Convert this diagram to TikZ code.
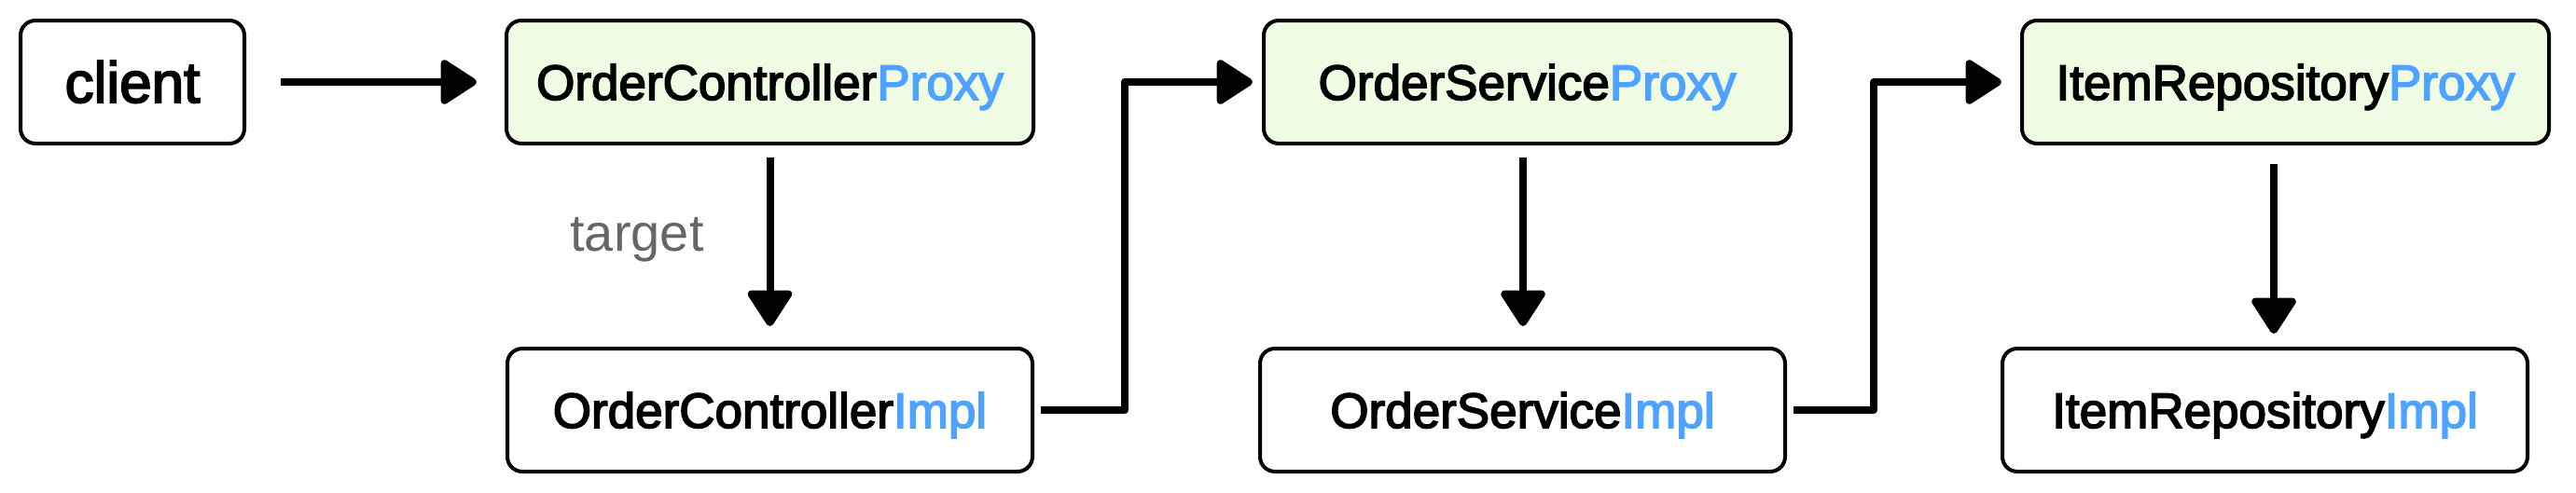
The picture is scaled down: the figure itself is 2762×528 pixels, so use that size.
\documentclass[tikz,border=0pt]{standalone}
\usepackage{fontspec}
\setmainfont{Liberation Sans}
\newfontfamily\boxfont{Liberation Sans}[FakeBold=3]
\usetikzlibrary{arrows.meta}
\definecolor{proxyfill}{HTML}{EFFBE2}
\definecolor{accent}{HTML}{4DA3FF}
\definecolor{labelgray}{HTML}{666666}
\tikzset{
  box/.style={draw=black, line width=4pt, rounded corners=16pt, fill=white,
    minimum height=132pt, inner sep=0pt, text height=38pt, text depth=0pt,
    font=\boxfont\fontsize{53}{60}\selectfont},
  proxybox/.style={box, fill=proxyfill, minimum width=565pt},
  implbox/.style={box, minimum width=563pt},
  arr/.style={draw=black, line width=8pt, line join=round,
    -{Triangle[length=42pt, width=52pt, round]}},
  lbl/.style={text=labelgray, font=\fontsize{56}{60}\selectfont, inner sep=0pt}
}
\begin{document}
\begin{tikzpicture}[x=1pt, y=-1pt]
\useasboundingbox (0,0) rectangle (2762,528);
\node[box, minimum width=240pt, text height=44pt, font=\boxfont\fontsize{62}{68}\selectfont] (client) at (142,88) {client};
\node[proxybox] (ocp) at (825.5,88) {OrderController\textcolor{accent}{Proxy}};
\node[implbox] (oci) at (825.5,440) {OrderController\textcolor{accent}{Impl}};
\node[proxybox] (osp) at (1637.5,88) {OrderService\textcolor{accent}{Proxy}};
\node[implbox] (osi) at (1632.5,440) {OrderService\textcolor{accent}{Impl}};
\node[proxybox] (irp) at (2450.5,88) {ItemRepository\textcolor{accent}{Proxy}};
\node[implbox] (iri) at (2428.5,440) {ItemRepository\textcolor{accent}{Impl}};
\node[lbl, anchor=base] (target) at (683,269) {target};

\draw[arr, shorten <=37pt, shorten >=30pt] (client.east) -- (ocp.west);
\draw[arr, shorten <=13pt, shorten >=22pt] (ocp.south) -- (oci.north);
\draw[arr, shorten <=13pt, shorten >=22pt] (osp.south -| 1633,0) -- (osi.north -| 1633,0);
\draw[arr, shorten <=20pt, shorten >=14pt] (irp.south -| 2438,0) -- (iri.north -| 2438,0);
\draw[arr, shorten <=7pt, shorten >=10pt] (oci.east) -- ++(97,0) |- (osp.west);
\draw[arr, shorten <=7pt, shorten >=20pt] (osi.east) -- ++(93,0) |- (irp.west);
\end{tikzpicture}
\end{document}
